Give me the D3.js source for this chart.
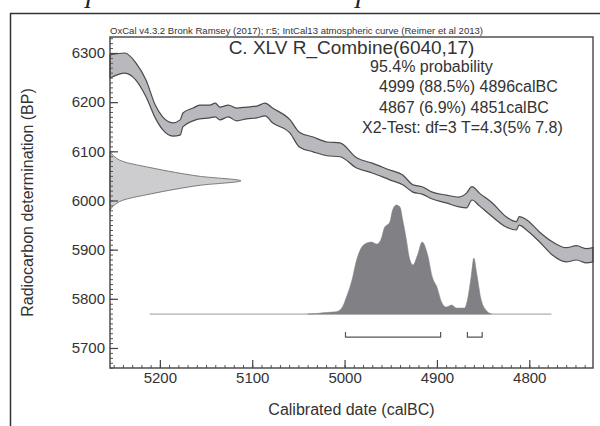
<!DOCTYPE html>
<html lang="en">
<head>
<meta charset="utf-8">
<script src="https://d3js.org/d3.v7.min.js"></script>
<style>
  body { margin: 0; background: #fff; }
  svg text { font-family: "Liberation Sans", Arial, sans-serif; fill: #333; }
</style>
</head>
<body>
<div id="chart"></div>
<script>
// IntCal13 band, upper and lower edge (BP) at each calendar year (calBC)
var curveYears = [5254, 5238, 5226, 5215, 5205, 5197, 5186, 5178, 5175, 5164, 5157, 5146, 5140, 5135, 5126, 5117, 5106, 5095, 5086, 5078,
                  5059, 5049, 5034, 5019, 5005, 4987, 4970, 4951, 4937, 4926, 4916, 4905, 4890, 4876, 4868, 4862, 4854, 4840, 4825, 4814,
                  4811, 4803, 4789, 4775, 4760, 4749, 4738, 4731];
var curveUpper = [6296, 6300, 6280, 6245, 6194, 6170, 6158, 6164, 6178, 6188, 6194, 6194, 6198, 6190, 6194, 6188, 6190, 6192, 6198, 6188,
                  6164, 6139, 6129, 6119, 6117, 6087, 6076, 6062, 6052, 6032, 6028, 6017, 6011, 6007, 6015, 6028, 6015, 5995, 5967, 5957,
                  5967, 5961, 5936, 5916, 5904, 5908, 5902, 5904];
var curveLower = [6249, 6259, 6245, 6211, 6168, 6144, 6131, 6133, 6150, 6162, 6166, 6168, 6170, 6164, 6170, 6162, 6166, 6168, 6172, 6158,
                  6137, 6109, 6099, 6091, 6089, 6066, 6056, 6042, 6032, 6017, 6013, 6003, 5995, 5987, 5985, 6001, 5989, 5967, 5946, 5940,
                  5950, 5940, 5916, 5889, 5875, 5879, 5873, 5875];

// radiocarbon date R_Combine(6040,17), relative density
var dateBP   = [6100, 6090, 6078, 6067, 6057, 6049, 6040, 6031, 6023, 6013, 6002, 5990, 5980];
var dateDens = [0, 0.03, 0.115, 0.305, 0.5, 0.69, 1, 0.69, 0.5, 0.305, 0.115, 0.03, 0];

// calibrated posterior, relative probability
var postYears = [5040, 5030, 5024, 5009, 5003, 4998, 4992, 4987, 4982, 4976, 4971, 4965, 4960, 4957, 4951, 4948, 4944, 4940, 4937, 4933,
                 4930, 4926, 4921, 4916, 4910, 4905, 4900, 4895, 4890, 4884, 4879, 4870, 4867, 4863, 4860, 4857, 4852, 4846, 4841];
var postProb  = [0, 0.5, 1.3, 2.3, 6, 17, 34, 54, 66, 71, 72, 70, 76, 86, 92, 104, 109, 107, 94, 74,
                 57, 49, 59, 72, 59, 37, 27, 12, 7, 9, 6, 6, 14, 37, 56, 41, 14, 3, 0];
var postSpan = [5211, 4776];

// 95.4% ranges
var rangeFrom = [4999, 4867];
var rangeTo   = [4896, 4851];

var xTicks = [5200, 5100, 5000, 4900, 4800];
var yTicks = [5700, 5800, 5900, 6000, 6100, 6200, 6300];

var header = "OxCal v4.3.2 Bronk Ramsey (2017); r:5; IntCal13 atmospheric curve (Reimer et al 2013)";
var title = "C. XLV R_Combine(6040,17)";
var statLines = ["95.4% probability", "4999 (88.5%) 4896calBC", "4867 (6.9%) 4851calBC", "X2-Test: df=3 T=4.3(5% 7.8)"];

var W = 600, H = 426;
var plotL = 110, plotR = 593, plotT = 37, plotB = 368;

var svg = d3.select("#chart").append("svg")
  .attr("width", W).attr("height", H);

// page frame and cut-off glyphs from above
svg.append("path")
  .attr("d", "M10.5,426V13.5H600")
  .attr("fill", "none").attr("stroke", "#333").attr("stroke-width", 1.5);
svg.selectAll(".cut").data([88, 358]).enter().append("text")
  .attr("class", "cut")
  .attr("x", function(d){ return d; }).attr("y", 8)
  .attr("text-anchor", "middle")
  .style("font-family", "'Liberation Serif', serif").style("font-style", "italic")
  .style("font-size", "24px").style("fill", "#222")
  .text("I");

var x = d3.scaleLinear().domain([5254, 4731]).range([plotL, plotR]);
var y = d3.scaleLinear().domain([5659.3, 6332.5]).range([plotB, plotT]);

// calibration curve band
var band = curveYears.map(function(d, i){ return {yr: d, hi: curveUpper[i], lo: curveLower[i]}; });
svg.append("path")
  .datum(band)
  .attr("fill", "#b9b9bd").attr("stroke", "#4a4a4a").attr("stroke-width", 1.2)
  .attr("d", d3.area()
    .x(function(d){ return x(d.yr); })
    .y0(function(d){ return y(d.lo); })
    .y1(function(d){ return y(d.hi); })
    .curve(d3.curveMonotoneX));

// measured date on the y axis
var dx = d3.scaleLinear().domain([0, 1]).range([plotL, 241]);
var dateData = dateBP.map(function(d, i){ return {bp: d, p: dateDens[i]}; });
svg.append("path")
  .datum(dateData)
  .attr("fill", "#cdcdcf").attr("stroke", "#7a7a7a").attr("stroke-width", 1)
  .attr("d", d3.area()
    .y(function(d){ return y(d.bp); })
    .x0(plotL)
    .x1(function(d){ return dx(d.p); })
    .curve(d3.curveMonotoneY));

// posterior
var base = y(5769);
var py = d3.scaleLinear().domain([0, d3.max(postProb)]).range([base, base - 109]);
svg.append("line")
  .attr("x1", x(postSpan[0])).attr("x2", x(postSpan[1]))
  .attr("y1", base).attr("y2", base)
  .attr("stroke", "#9a9a9a").attr("stroke-width", 1);
var postData = postYears.map(function(d, i){ return {yr: d, p: postProb[i]}; });
svg.append("path")
  .datum(postData)
  .attr("fill", "#818185").attr("stroke", "#818185").attr("stroke-width", 0.5)
  .attr("d", d3.area()
    .x(function(d){ return x(d.yr); })
    .y0(base)
    .y1(function(d){ return py(d.p); })
    .curve(d3.curveMonotoneX));

// range brackets
var by = base + 23;
rangeFrom.forEach(function(f, i){
  var x1 = x(f), x2 = x(rangeTo[i]);
  svg.append("path")
    .attr("d", "M" + x1 + "," + (by - 5) + "V" + by + "H" + x2 + "V" + (by - 5))
    .attr("fill", "none").attr("stroke", "#555").attr("stroke-width", 1.2);
});

// axes
var xMinor = d3.range(4740, 5260, 10);
var yMinor = d3.range(5660, 6340, 10);

svg.append("g")
  .attr("transform", "translate(0," + plotB + ")")
  .call(d3.axisBottom(x).tickValues(xMinor).tickSize(-3).tickFormat(""))
  .call(function(g){ g.select(".domain").remove(); g.selectAll("line").attr("stroke", "#555"); });
svg.append("g")
  .attr("transform", "translate(0," + plotB + ")")
  .call(d3.axisBottom(x).tickValues(xTicks).tickSize(-8).tickPadding(4.5).tickFormat(d3.format("d")))
  .call(function(g){
    g.select(".domain").remove();
    g.selectAll("line").attr("stroke", "#444").attr("stroke-width", 1.2);
    g.selectAll("text").style("font-size", "15px").style("font-family", null).attr("fill", null);
  });

svg.append("g")
  .attr("transform", "translate(" + plotL + ",0)")
  .call(d3.axisLeft(y).tickValues(yMinor).tickSize(-3).tickFormat(""))
  .call(function(g){ g.select(".domain").remove(); g.selectAll("line").attr("stroke", "#555"); });
svg.append("g")
  .attr("transform", "translate(" + plotL + ",0)")
  .call(d3.axisLeft(y).tickValues(yTicks).tickSize(-8).tickPadding(5).tickFormat(d3.format("d")))
  .call(function(g){
    g.select(".domain").remove();
    g.selectAll("line").attr("stroke", "#444").attr("stroke-width", 1.2);
    g.selectAll("text").style("font-size", "15px").style("font-family", null).attr("fill", null);
  });

// plot frame
svg.append("rect")
  .attr("x", plotL).attr("y", plotT)
  .attr("width", plotR - plotL).attr("height", plotB - plotT)
  .attr("fill", "none").attr("stroke", "#444").attr("stroke-width", 1.4);

// texts
svg.append("text")
  .attr("x", plotL).attr("y", 34)
  .attr("textLength", 373).attr("lengthAdjust", "spacingAndGlyphs")
  .style("font-size", "9px")
  .text(header);

svg.append("text")
  .attr("x", (plotL + plotR) / 2).attr("y", 54)
  .attr("text-anchor", "middle")
  .style("font-size", "19px")
  .text(title);

var statX = [370, 379, 379, 362];
var statY = [72, 92, 113, 133];
statLines.forEach(function(s, i){
  svg.append("text")
    .attr("x", statX[i]).attr("y", statY[i])
    .style("font-size", "16px")
    .text(s);
});

svg.append("text")
  .attr("x", (plotL + plotR) / 2).attr("y", 415)
  .attr("text-anchor", "middle")
  .style("font-size", "16px")
  .text("Calibrated date (calBC)");

svg.append("text")
  .attr("transform", "translate(33," + ((plotT + plotB) / 2) + ") rotate(-90)")
  .attr("text-anchor", "middle")
  .style("font-size", "16px")
  .text("Radiocarbon determination (BP)");
</script>
</body>
</html>
